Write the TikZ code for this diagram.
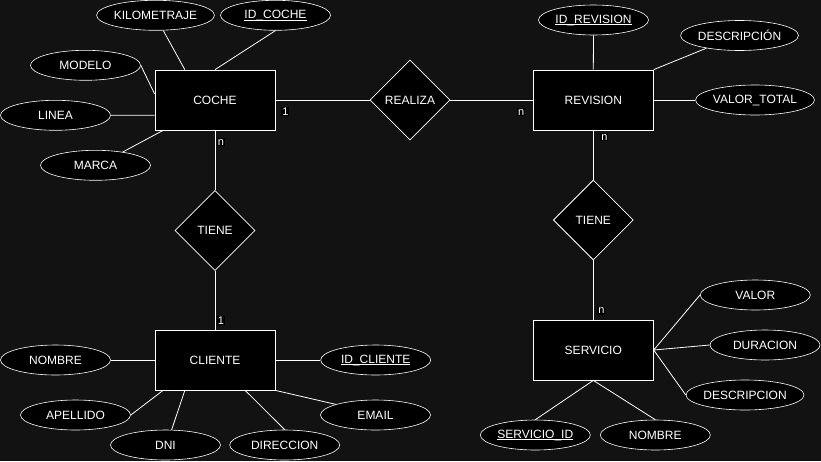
\documentclass[tikz,border=0pt]{standalone}
\usepackage{fontspec}
\setmainfont{Liberation Sans}
\usetikzlibrary{shapes.geometric,calc}
\definecolor{bgc}{RGB}{18,18,18}
\newcommand{\keyattr}[1]{\underline{#1}}
\tikzset{
  ent/.style={draw=white, fill=black, text=white, minimum width=120pt, minimum height=60pt, inner sep=0pt, font=\fontsize{12}{14}\selectfont, line width=0.8pt},
  attr/.style={ellipse, draw=white, fill=black, text=white, minimum width=110pt, minimum height=30pt, inner sep=0pt, font=\fontsize{12}{14}\selectfont, line width=0.6pt},
  rel/.style={diamond, draw=white, fill=black, text=white, minimum width=80pt, minimum height=80pt, inner sep=0pt, font=\fontsize{12}{14}\selectfont, line width=0.8pt},
  conn/.style={draw=white, line width=0.8pt},
  lbl/.style={fill=black, text=white, inner sep=1pt, font=\fontsize{11}{12}\selectfont},
}
\begin{document}
\begin{tikzpicture}[x=1pt, y=-1pt]
\useasboundingbox[fill=bgc] (0,0) rectangle (821,461);
% entities
\node[ent] (coche) at (215,100) {COCHE};
\node[ent] (revision) at (593.3,100) {REVISION};
\node[ent] (cliente) at (215,360) {CLIENTE};
\node[ent] (servicio) at (593.3,350) {SERVICIO};
% relations
\node[rel] (realiza) at (410,100) {REALIZA};
\node[rel] (tiene1) at (215,230.5) {TIENE};
\node[rel] (tiene2) at (593.3,220) {TIENE};
% coche attributes
\node[attr] (kilo) at (155.5,15.3) {KILOMETRAJE};
\node[attr] (idcoche) at (275.5,15.3) {\keyattr{ID\smash{\_}COCHE}};
\node[attr] (modelo) at (85.5,65.3) {MODELO};
\node[attr] (linea) at (55.5,115.3) {LINEA};
\node[attr] (marca) at (95.5,165.3) {MARCA};
% revision attributes
\node[attr] (idrev) at (593.5,20) {\keyattr{ID\smash{\_}REVISION}};
\node[attr] (descrev) at (739.5,35.5) {DESCRIPCIÓN};
\node[attr] (valtot) at (755,100) {VALOR\_TOTAL};
% cliente attributes
\node[attr] (nombre) at (55.5,360) {NOMBRE};
\node[attr] (idcli) at (375.7,360) {\keyattr{ID\smash{\_}CLIENTE}};
\node[attr] (apellido) at (75.5,415) {APELLIDO};
\node[attr] (dni) at (165.5,445) {DNI};
\node[attr] (direccion) at (284.7,445) {DIRECCION};
\node[attr] (email) at (375.5,415) {EMAIL};
% servicio attributes
\node[attr] (valor) at (755.3,295) {VALOR};
\node[attr] (duracion) at (765,345) {DURACION};
\node[attr] (descserv) at (745,395) {DESCRIPCION};
\node[attr] (servid) at (535.3,435) {\keyattr{SERVICIO\smash{\_}ID}};
\node[attr] (nombre2) at (655.3,435) {NOMBRE};
% attribute connectors
\draw[conn] (kilo.-63) -- ($(coche.north west)!0.25!(coche.north east)$);
\draw[conn] (idcoche.south) -- (coche.north);
\draw[conn] (modelo.east) -- ($(coche.north west)!0.4!(coche.south west)$);
\draw[conn] (linea.east) -- ($(coche.north west)!0.75!(coche.south west)$);
\draw[conn] (marca.26) -- ($(coche.south west)!0.07!(coche.south east)$);
\draw[conn] (idrev.south) -- (revision.north);
\draw[conn] (descrev.201) -- (revision.north east);
\draw[conn] (valtot.west) -- (revision.east);
\draw[conn] (nombre.east) -- (cliente.west);
\draw[conn] (cliente.east) -- (idcli.west);
\draw[conn] (apellido.east) -- ($(cliente.south west)!0.07!(cliente.south east)$);
\draw[conn] (dni.68) -- ($(cliente.south west)!0.25!(cliente.south east)$);
\draw[conn] (direccion.north) -- ($(cliente.south west)!0.75!(cliente.south east)$);
\draw[conn] (email.165) -- (cliente.south east);
\draw[conn] (valor.west) -- (servicio.east);
\draw[conn] (duracion.west) -- (servicio.east);
\draw[conn] (descserv.west) -- (servicio.east);
\draw[conn] (servid.north) -- (servicio.south);
\draw[conn] (nombre2.north) -- (servicio.south);
% relationship connectors
\draw[conn] (coche.east) -- (realiza.west) node[lbl, at start, xshift=10pt, yshift=-11.7pt] {1};
\draw[conn] (realiza.east) -- (revision.west) node[lbl, at end, xshift=-11.6pt, yshift=-12.3pt] {n};
\draw[conn] (coche.south) -- (tiene1.north) node[lbl, at start, xshift=6pt, yshift=-11.7pt] {n};
\draw[conn] (tiene1.south) -- (cliente.north) node[lbl, at end, xshift=6pt, yshift=9.3pt] {1};
\draw[conn] (revision.south) -- (tiene2.north) node[lbl, at start, xshift=11pt, yshift=-6.7pt] {n};
\draw[conn] (tiene2.south) -- (servicio.north) node[lbl, at end, xshift=8pt, yshift=9pt] {n};
\end{tikzpicture}
\end{document}
